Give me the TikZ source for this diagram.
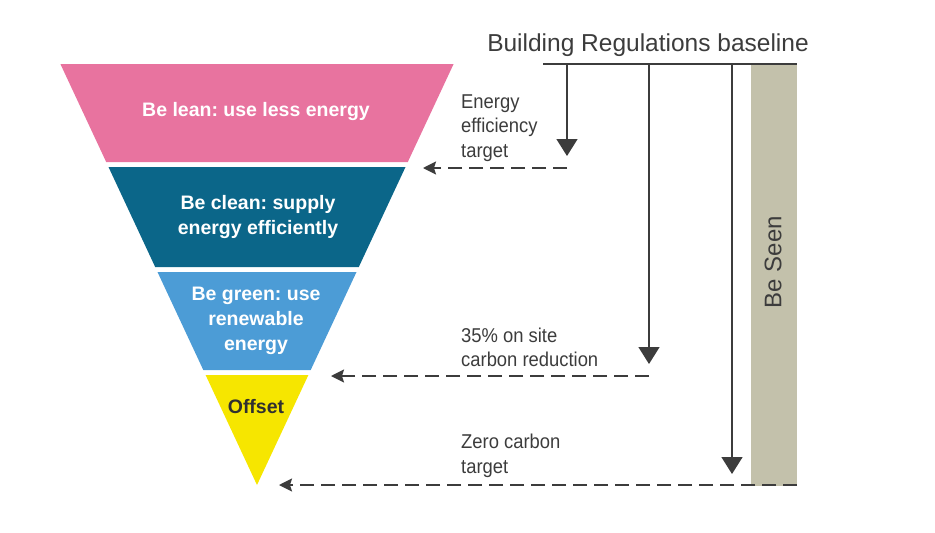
\documentclass[tikz,border=0pt]{standalone}
\usepackage{fontspec}
\setmainfont{Liberation Sans}
\newfontfamily\narrowfont[FakeStretch=0.92]{Liberation Sans}
\usetikzlibrary{arrows.meta}
\definecolor{leanpink}{HTML}{E8739F}
\definecolor{cleanblue}{HTML}{0B6689}
\definecolor{greenblue}{HTML}{4C9CD6}
\definecolor{offyellow}{HTML}{F6E600}
\definecolor{seengray}{HTML}{C3C1AB}
\definecolor{inkgray}{HTML}{3C3C3C}
\frenchspacing
\begin{document}
\frenchspacing
\begin{tikzpicture}[x=1pt,y=-1pt,
  bandtext/.style={text=white,font=\fontsize{19.5}{25}\selectfont\bfseries\frenchspacing,align=center,inner sep=0pt},
  lbl/.style={text=inkgray,font=\narrowfont\fontsize{20}{24.5}\selectfont,align=left,anchor=west,inner sep=0pt},
  vertarrow/.style={draw=inkgray,line width=1.5pt,-{Triangle[length=17pt,width=21pt]}},
  dasharrow/.style={draw=inkgray,line width=1.5pt,dash pattern=on 14pt off 7pt,-{Stealth[length=13pt,width=13pt,inset=2pt]}}]
\useasboundingbox (0,0) rectangle (935,533);
% funnel bands
\fill[leanpink] (60.4,64) -- (453.6,64) -- (407.8,162) -- (106.2,162) -- cycle;
\fill[cleanblue] (108.5,167) -- (405.5,167) -- (358.8,267) -- (155.2,267) -- cycle;
\fill[greenblue] (157.5,272) -- (356.5,272) -- (310.7,370) -- (203.3,370) -- cycle;
\fill[offyellow] (205.6,375) -- (308.4,375) -- (257,485) -- cycle;
\node[bandtext] (lean) at (256,111) {Be lean: use less energy};
\node[bandtext] (clean) at (258,217) {Be clean: supply\\energy efficiently};
\node[bandtext] (green) at (256,321) {Be green: use\\renewable\\energy};
\node[bandtext,text=inkgray!80!black] (offset) at (256,407) {Offset};
% Be Seen bar
\fill[seengray] (751,64) rectangle (797,486);
\node[rotate=90,text=inkgray,font=\fontsize{24}{28}\selectfont,inner sep=0pt] (seen) at (773,262) {Be Seen};
% baseline
\node[text=inkgray,font=\fontsize{24.5}{28}\selectfont,inner sep=0pt] (title) at (648,45) {Building Regulations baseline};
\coordinate (bl) at (543,64);
\coordinate (br) at (797,64);
\draw[inkgray,line width=2pt] (bl) -- (br);
\coordinate (v1s) at (567,64);
\coordinate (v1e) at (567,156);
\coordinate (v2s) at (649,64);
\coordinate (v2e) at (649,364);
\coordinate (v3s) at (732,64);
\coordinate (v3e) at (732,474);
\draw[vertarrow] (v1s) -- (v1e);
\draw[vertarrow] (v2s) -- (v2e);
\draw[vertarrow] (v3s) -- (v3e);
% dashed arrows
\coordinate (d1s) at (567,168);
\coordinate (d1e) at (423,168);
\coordinate (d2s) at (649,376);
\coordinate (d2e) at (331,376);
\coordinate (d3s) at (797,485);
\coordinate (d3e) at (279,485);
\draw[dasharrow] (d1s) -- (d1e);
\draw[dasharrow] (d2s) -- (d2e);
\draw[dasharrow] (d3s) -- (d3e);
% labels
\node[lbl] (eff) at (461,128) {Energy\\efficiency\\target};
\node[lbl] (red) at (461,347.5) {35\% on site\\carbon reduction};
\node[lbl] (zero) at (461,456) {Zero carbon\\target};
\end{tikzpicture}
\end{document}
